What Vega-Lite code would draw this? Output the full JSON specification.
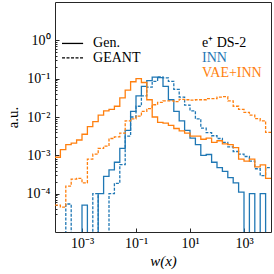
{
  "$schema": "https://vega.github.io/schema/vega-lite/v6.json",
  "width": 216,
  "height": 230,
  "autosize": {"type": "none"},
  "padding": {"left": 55, "top": 2, "right": 3, "bottom": 42},
  "config": {
    "font": "Liberation Serif",
    "view": {"stroke": "#262626", "strokeWidth": 1},
    "axis": {"domain": false, "grid": false, "tickColor": "#262626", "labelColor": "#000", "titleColor": "#000", "labelFont": "Liberation Serif", "titleFont": "Liberation Serif", "labelFontSize": 14, "titleFontSize": 15, "titleFontWeight": "normal"}
  },
  "datasets": {
    "hist": [
      {"x": 0.0001, "inn_gen": 1e-7, "inn_geant": 1e-7, "vae_gen": 8.91e-4, "vae_geant": 5.01e-5},
      {"x": 0.000158489, "inn_gen": 1e-7, "inn_geant": 1e-7, "vae_gen": 1.41e-3, "vae_geant": 4.47e-5},
      {"x": 0.000251189, "inn_gen": 1e-7, "inn_geant": 5.37e-5, "vae_gen": 1.91e-3, "vae_geant": 1.58e-4},
      {"x": 0.000398107, "inn_gen": 1e-7, "inn_geant": 1e-7, "vae_gen": 2.09e-3, "vae_geant": 2.40e-4},
      {"x": 0.000630957, "inn_gen": 1e-7, "inn_geant": 1e-7, "vae_gen": 2.51e-3, "vae_geant": 2.51e-4},
      {"x": 0.001, "inn_gen": 5.01e-5, "inn_geant": 1e-7, "vae_gen": 3.55e-3, "vae_geant": 1.91e-4},
      {"x": 0.00158489, "inn_gen": 1e-7, "inn_geant": 1e-7, "vae_gen": 5.62e-3, "vae_geant": 7.94e-4},
      {"x": 0.00251189, "inn_gen": 1e-7, "inn_geant": 1e-4, "vae_gen": 7.59e-3, "vae_geant": 1.07e-3},
      {"x": 0.00398107, "inn_gen": 1e-4, "inn_geant": 1e-7, "vae_gen": 1.12e-2, "vae_geant": 1.51e-3},
      {"x": 0.00630957, "inn_gen": 2.82e-4, "inn_geant": 1e-7, "vae_gen": 1.45e-2, "vae_geant": 1.74e-3},
      {"x": 0.01, "inn_gen": 4.17e-4, "inn_geant": 1e-4, "vae_gen": 1.58e-2, "vae_geant": 2.75e-3},
      {"x": 0.0158489, "inn_gen": 6.61e-4, "inn_geant": 1.86e-4, "vae_gen": 1.91e-2, "vae_geant": 3.02e-3},
      {"x": 0.0251189, "inn_gen": 1.51e-3, "inn_geant": 5.75e-4, "vae_gen": 3.16e-2, "vae_geant": 3.80e-3},
      {"x": 0.0398107, "inn_gen": 4.47e-3, "inn_geant": 3.16e-3, "vae_gen": 5.01e-2, "vae_geant": 7.94e-3},
      {"x": 0.0630957, "inn_gen": 1.41e-2, "inn_geant": 1.0e-2, "vae_gen": 8.32e-2, "vae_geant": 8.91e-3},
      {"x": 0.1, "inn_gen": 3.55e-2, "inn_geant": 1.91e-2, "vae_gen": 0.1, "vae_geant": 1.05e-2},
      {"x": 0.158489, "inn_gen": 6.31e-2, "inn_geant": 3.55e-2, "vae_gen": 7.94e-2, "vae_geant": 1.41e-2},
      {"x": 0.251189, "inn_gen": 8.91e-2, "inn_geant": 6.03e-2, "vae_gen": 2.82e-2, "vae_geant": 1.66e-2},
      {"x": 0.398107, "inn_gen": 0.110, "inn_geant": 8.51e-2, "vae_gen": 1.0e-2, "vae_geant": 2.09e-2},
      {"x": 0.630957, "inn_gen": 0.107, "inn_geant": 0.112, "vae_gen": 7.24e-3, "vae_geant": 2.40e-2},
      {"x": 1, "inn_gen": 6.31e-2, "inn_geant": 0.105, "vae_gen": 6.92e-3, "vae_geant": 2.63e-2},
      {"x": 1.58489, "inn_gen": 2.82e-2, "inn_geant": 8.51e-2, "vae_gen": 6.03e-3, "vae_geant": 2.63e-2},
      {"x": 2.51189, "inn_gen": 1.41e-2, "inn_geant": 5.25e-2, "vae_gen": 5.01e-3, "vae_geant": 2.51e-2},
      {"x": 3.98107, "inn_gen": 7.94e-3, "inn_geant": 3.31e-2, "vae_gen": 4.37e-3, "vae_geant": 2.88e-2},
      {"x": 6.30957, "inn_gen": 4.47e-3, "inn_geant": 2.04e-2, "vae_gen": 3.80e-3, "vae_geant": 2.82e-2},
      {"x": 10, "inn_gen": 2.82e-3, "inn_geant": 1.45e-2, "vae_gen": 3.16e-3, "vae_geant": 2.75e-2},
      {"x": 15.8489, "inn_gen": 1.91e-3, "inn_geant": 8.91e-3, "vae_gen": 3.16e-3, "vae_geant": 2.82e-2},
      {"x": 25.1189, "inn_gen": 1.0e-3, "inn_geant": 5.13e-3, "vae_gen": 2.63e-3, "vae_geant": 2.82e-2},
      {"x": 39.8107, "inn_gen": 1.05e-3, "inn_geant": 3.89e-3, "vae_gen": 2.82e-3, "vae_geant": 3.02e-2},
      {"x": 63.0957, "inn_gen": 6.61e-4, "inn_geant": 3.24e-3, "vae_gen": 2.19e-3, "vae_geant": 3.02e-2},
      {"x": 100, "inn_gen": 4.79e-4, "inn_geant": 2.75e-3, "vae_gen": 2.40e-3, "vae_geant": 3.31e-2},
      {"x": 158.489, "inn_gen": 3.80e-4, "inn_geant": 2.19e-3, "vae_gen": 2.00e-3, "vae_geant": 3.39e-2},
      {"x": 251.189, "inn_gen": 2.63e-4, "inn_geant": 1.66e-3, "vae_gen": 1.91e-3, "vae_geant": 2.63e-2},
      {"x": 398.107, "inn_gen": 1.91e-4, "inn_geant": 1.26e-3, "vae_gen": 1.58e-3, "vae_geant": 1.91e-2},
      {"x": 630.957, "inn_gen": 1.10e-4, "inn_geant": 1.07e-3, "vae_gen": 7.94e-4, "vae_geant": 1.58e-2},
      {"x": 1000, "inn_gen": 1e-7, "inn_geant": 9.33e-4, "vae_gen": 7.08e-4, "vae_geant": 1.32e-2},
      {"x": 1584.89, "inn_gen": 1.0e-4, "inn_geant": 7.08e-4, "vae_gen": 7.94e-4, "vae_geant": 1.12e-2},
      {"x": 2511.89, "inn_gen": 1e-7, "inn_geant": 4.47e-4, "vae_gen": 5.01e-4, "vae_geant": 9.12e-3},
      {"x": 3981.07, "inn_gen": 1.0e-4, "inn_geant": 2.95e-4, "vae_gen": 5.62e-4, "vae_geant": 7.94e-3},
      {"x": 6309.57, "inn_gen": 1e-7, "inn_geant": 4.79e-4, "vae_gen": 2.51e-4, "vae_geant": 3.98e-3},
      {"x": 10000, "inn_gen": 1e-7, "inn_geant": 4.79e-4, "vae_gen": 2.51e-4, "vae_geant": 3.98e-3}
    ]
  },
  "layer": [
    {
      "data": {"name": "hist"},
      "transform": [{"fold": ["inn_gen", "inn_geant", "vae_gen", "vae_geant"], "as": ["k", "y"]}],
      "mark": {"type": "line", "interpolate": "step-after", "clip": true, "strokeWidth": 1.3},
      "encoding": {
        "x": {"field": "x", "type": "quantitative", "scale": {"type": "log", "domain": [0.0001, 10000]},
              "axis": {"title": "w(x)", "titleFontStyle": "italic", "values": [0.001, 0.1, 10, 1000],
                       "labelExpr": "datum.value < 0.01 ? '10⁻³' : datum.value < 1 ? '10⁻¹' : datum.value < 100 ? '10¹' : '10³'",
                       "tickSize": -4, "labelPadding": 8, "titlePadding": 3, "labelFlush": false}},
        "y": {"field": "y", "type": "quantitative", "scale": {"type": "log", "domain": [3e-5, 1.7]},
              "axis": {"title": "a.u.", "orient": "left",
                       "values": [3e-5, 4e-5, 5e-5, 6e-5, 7e-5, 8e-5, 9e-5, 0.0001, 2e-4, 3e-4, 4e-4, 5e-4, 6e-4, 7e-4, 8e-4, 9e-4, 0.001, 0.002, 0.003, 0.004, 0.005, 0.006, 0.007, 0.008, 0.009, 0.01, 0.02, 0.03, 0.04, 0.05, 0.06, 0.07, 0.08, 0.09, 0.1, 0.2, 0.3, 0.4, 0.5, 0.6, 0.7, 0.8, 0.9, 1],
                       "labelExpr": "abs(log(datum.value)/LN10 - round(log(datum.value)/LN10)) > 0.01 ? '' : datum.value > 0.5 ? '10⁰' : datum.value > 0.05 ? '10⁻¹' : datum.value > 0.005 ? '10⁻²' : datum.value > 0.0005 ? '10⁻³' : '10⁻⁴'",
                       "tickSize": {"condition": {"test": "abs(log(datum.value)/LN10 - round(log(datum.value)/LN10)) < 0.01", "value": -4}, "value": -2},
                       "labelPadding": 9, "titlePadding": 6, "labelFlush": false, "labelOverlap": false}},
        "color": {"field": "k", "type": "nominal", "legend": null,
                  "scale": {"domain": ["inn_gen", "inn_geant", "vae_gen", "vae_geant"], "range": ["#1f77b4", "#1f77b4", "#ff7f0e", "#ff7f0e"]}},
        "strokeDash": {"field": "k", "type": "nominal", "legend": null,
                  "scale": {"domain": ["inn_gen", "inn_geant", "vae_gen", "vae_geant"], "range": [[1, 0], [3, 1.5], [1, 0], [3, 1.5]]}}
      }
    },
    {
      "mark": {"type": "rule", "color": "#262626", "strokeDash": [4, 2.5], "strokeWidth": 1},
      "encoding": {"x": {"datum": 1, "type": "quantitative"}}
    },
    {
      "data": {"values": [{"x1": 0.000182, "x2": 0.0011, "y": 0.83}]},
      "mark": {"type": "rule", "color": "#000", "strokeWidth": 1.3},
      "encoding": {"x": {"field": "x1", "type": "quantitative"}, "x2": {"field": "x2"}, "y": {"field": "y", "type": "quantitative"}}
    },
    {
      "data": {"values": [{"x1": 0.000182, "x2": 0.0011, "y": 0.35}]},
      "mark": {"type": "rule", "color": "#000", "strokeWidth": 1.3, "strokeDash": [3, 1.5]},
      "encoding": {"x": {"field": "x1", "type": "quantitative"}, "x2": {"field": "x2"}, "y": {"field": "y", "type": "quantitative"}}
    },
    {
      "data": {"values": [{"x": 0.00257, "y": 0.83, "t": "Gen."}, {"x": 0.00257, "y": 0.35, "t": "GEANT"}, {"x": 27.8, "y": 0.83, "t": "e⁺ DS-2"}]},
      "mark": {"type": "text", "align": "left", "baseline": "middle", "fontSize": 14, "font": "Liberation Serif", "color": "#000"},
      "encoding": {"x": {"field": "x", "type": "quantitative"}, "y": {"field": "y", "type": "quantitative"}, "text": {"field": "t"}}
    },
    {
      "data": {"values": [{"x": 27.8, "y": 0.35, "t": "INN"}]},
      "mark": {"type": "text", "align": "left", "baseline": "middle", "fontSize": 14, "font": "Liberation Serif", "color": "#1f77b4"},
      "encoding": {"x": {"field": "x", "type": "quantitative"}, "y": {"field": "y", "type": "quantitative"}, "text": {"field": "t"}}
    },
    {
      "data": {"values": [{"x": 27.8, "y": 0.143, "t": "VAE+INN"}]},
      "mark": {"type": "text", "align": "left", "baseline": "middle", "fontSize": 14, "font": "Liberation Serif", "color": "#ff7f0e"},
      "encoding": {"x": {"field": "x", "type": "quantitative"}, "y": {"field": "y", "type": "quantitative"}, "text": {"field": "t"}}
    }
  ]
}
